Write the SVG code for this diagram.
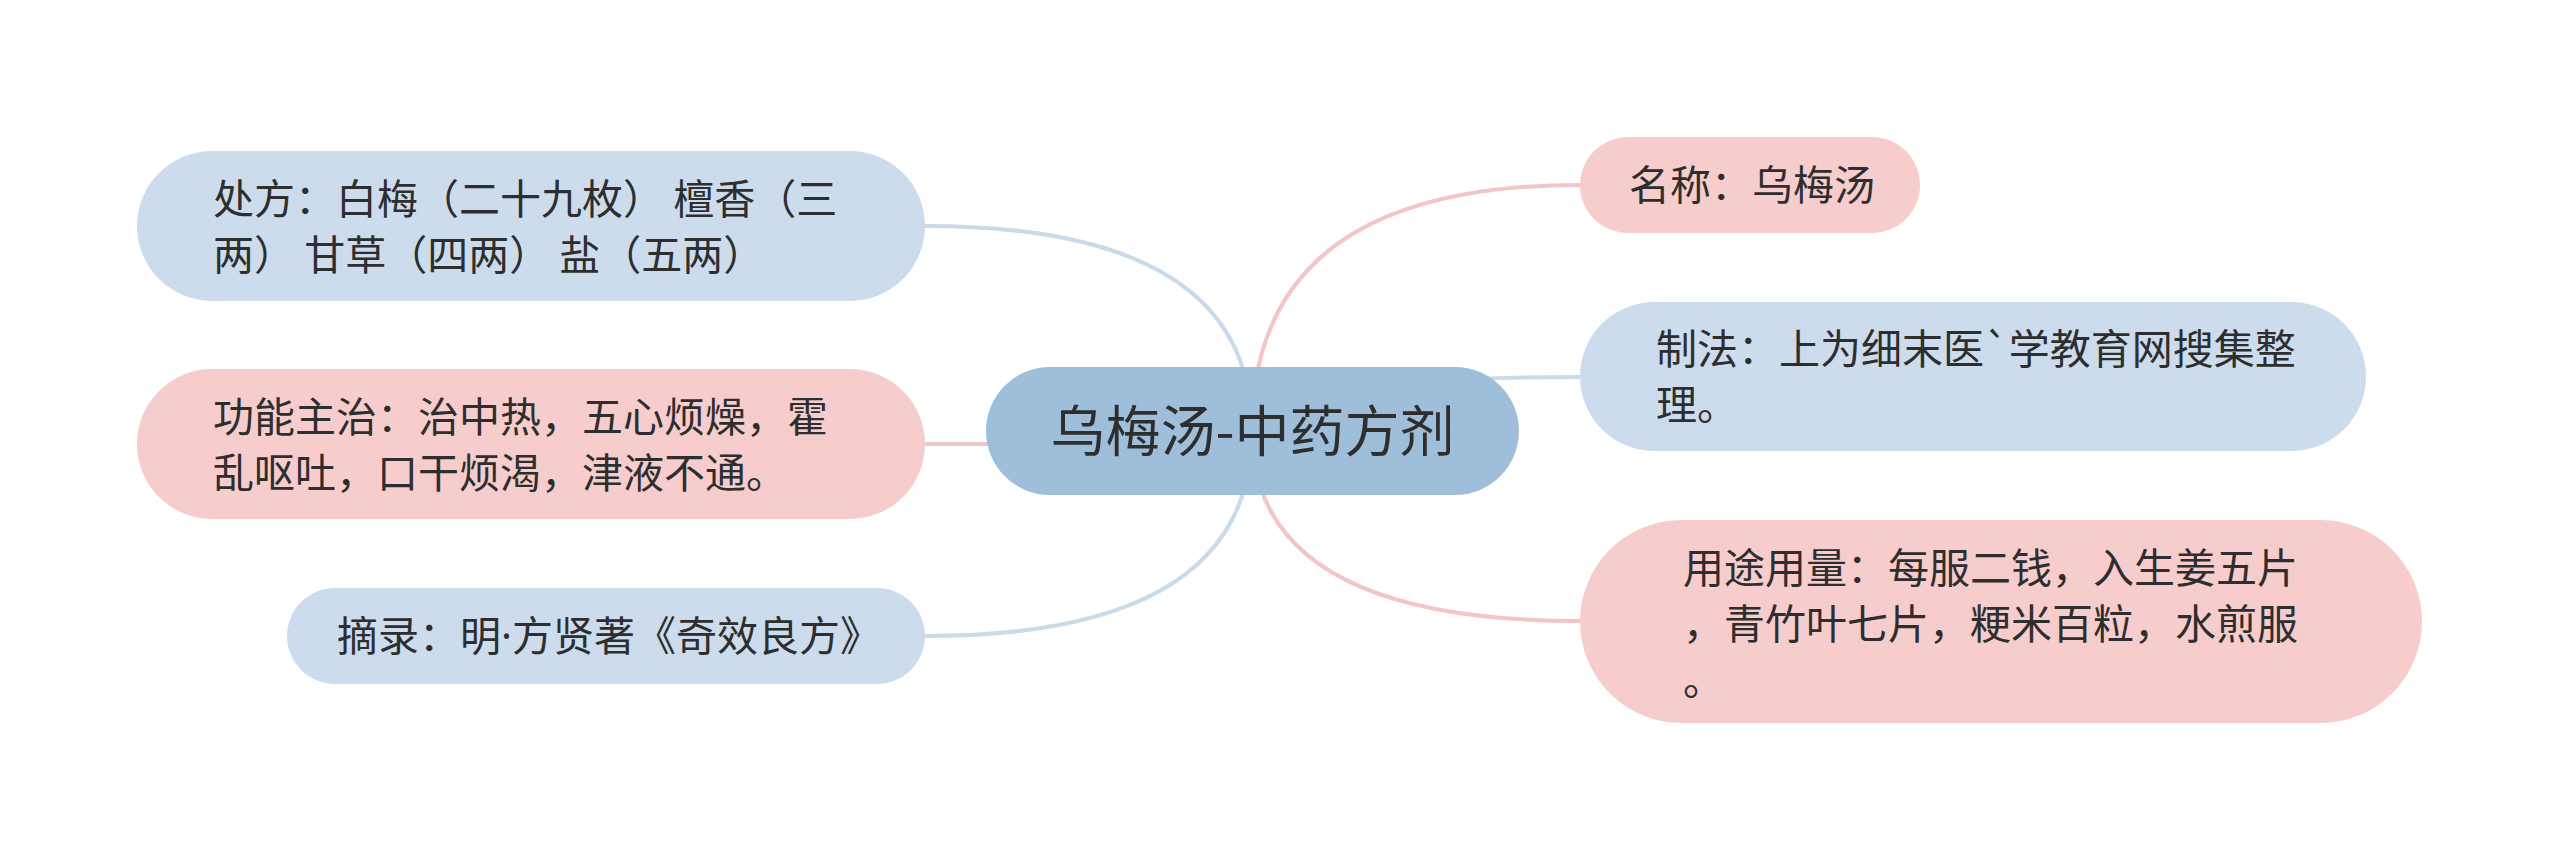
<svg xmlns="http://www.w3.org/2000/svg" width="2560" height="862" viewBox="0 0 2560 862">
<style>
.t{font-family:"Noto Sans CJK SC","Noto Sans",sans-serif;font-size:41px;fill:#2e2e2e}
.tc{font-family:"Noto Sans CJK SC","Noto Sans",sans-serif;font-size:55px;fill:#2e2e2e}
.lat{font-family:"Noto Sans",sans-serif}
.blue{fill:#ccdcec}
.pink{fill:#f6cccd}
.center{fill:#9ebeda}
.lb{fill:none;stroke:#c9dbeb;stroke-width:4}
.lp{fill:none;stroke:#f2c5c7;stroke-width:4}
</style>
<rect width="2560" height="862" fill="#ffffff"/>
<g id="connectors">
<path class="lb" d="M1252,431 Q1252,226 925,226"/>
<path class="lp" d="M1252,431 Q1252,444 925,444"/>
<path class="lb" d="M1252,431 Q1252,636 925,636"/>
<path class="lp" d="M1252,431 Q1252,185 1580,185"/>
<path class="lb" d="M1252,431 Q1252,377 1580,377"/>
<path class="lp" d="M1252,431 Q1252,621 1580,621"/>
</g>
<g id="center">
<rect class="center" x="986" y="367" width="533" height="128" rx="64"/>
<text class="tc" x="1252.5" y="451" text-anchor="middle">乌梅汤-中药方剂</text>
</g>
<g id="chufang">
<rect class="blue" x="137" y="151" width="788" height="150" rx="75"/>
<text class="t" x="213" y="213.5">处方：白梅（二十九枚） 檀香（三</text>
<text class="t" x="213" y="269.5">两） 甘草（四两） 盐（五两）</text>
</g>
<g id="gongneng">
<rect class="pink" x="137" y="369" width="788" height="150" rx="75"/>
<text class="t" x="213" y="431.5">功能主治：治中热，五心烦燥，霍</text>
<text class="t" x="213" y="487.5">乱呕吐，口干烦渴，津液不通。</text>
</g>
<g id="zhailu">
<rect class="blue" x="287" y="588" width="638" height="96" rx="48"/>
<text class="t" x="337" y="651">摘录：明<tspan class="lat">·</tspan>方贤著《奇效良方》</text>
</g>
<g id="mingcheng">
<rect class="pink" x="1580" y="137" width="340" height="96" rx="48"/>
<text class="t" x="1629" y="200">名称：乌梅汤</text>
</g>
<g id="zhifa">
<rect class="blue" x="1580" y="302" width="786" height="149" rx="74.5"/>
<text class="t" x="1656" y="364">制法：上为细末医`学教育网搜集整</text>
<text class="t" x="1656" y="420">理。</text>
</g>
<g id="yongtu">
<rect class="pink" x="1580" y="520" width="842" height="203" rx="101.5"/>
<text class="t" x="1683" y="583">用途用量：每服二钱，入生姜五片</text>
<text class="t" x="1683" y="639">，青竹叶七片，粳米百粒，水煎服</text>
<text class="t" x="1683" y="695">。</text>
</g>
</svg>
